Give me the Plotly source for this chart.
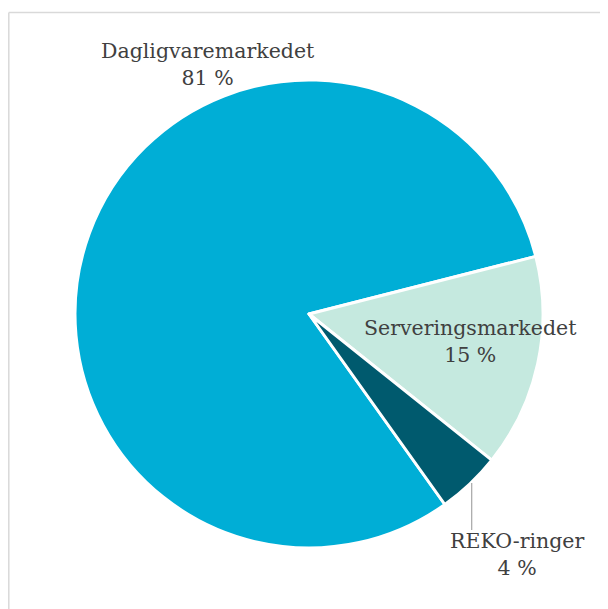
import plotly.graph_objects as go

labels = ["Dagligvaremarkedet", "Serveringsmarkedet", "REKO-ringer"]
values = [80.9, 14.7, 4.4]
colors = ["#00AED6", "#C5E9DF", "#005A6E"]

# page body has an 8px margin, so the figure fills the remaining 600x601
W, H = 600, 601
cx, cy, r = 301, 306, 234

fig = go.Figure(go.Pie(
    labels=labels, values=values, sort=False, direction="clockwise",
    rotation=144.5, textinfo="none", hoverinfo="label+percent",
    marker=dict(colors=colors, line=dict(color="white", width=3)),
    domain=dict(x=[(cx - r) / W, (cx + r) / W], y=[(H - cy - r) / H, (H - cy + r) / H]),
    showlegend=False,
))

# label placement (pixels from top-left of the figure)
label_pos = [(200, 56), (462, 334), (509, 546)]
font = dict(family="DejaVu Serif", size=20.5, color="#404040")
for lab, val, (x, y) in zip(labels, values, label_pos):
    fig.add_annotation(x=x / W, y=1 - y / H, xref="paper", yref="paper",
                       text=f"{lab}<br>{val:.0f} %", showarrow=False, font=font,
                       xanchor="center", yanchor="middle")

# leader line for REKO-ringer
fig.add_shape(type="line", xref="paper", yref="paper",
              x0=463.7 / W, x1=463.7 / W, y0=1 - 475 / H, y1=1 - 522 / H,
              line=dict(color="#A6A6A6", width=1.2))
# chart border (only top and left edges are visible)
border = dict(color="#D9D9D9", width=1.5)
fig.add_shape(type="line", xref="paper", yref="paper",
              x0=0.8 / W, x1=1.0, y0=1 - 4.5 / H, y1=1 - 4.5 / H, line=border)
fig.add_shape(type="line", xref="paper", yref="paper",
              x0=0.8 / W, x1=0.8 / W, y0=0.0, y1=1 - 4.5 / H, line=border)

fig.update_layout(width=W, height=H, margin=dict(l=0, r=0, t=0, b=0),
                  paper_bgcolor="white", plot_bgcolor="white")
fig.write_html("out.html")
